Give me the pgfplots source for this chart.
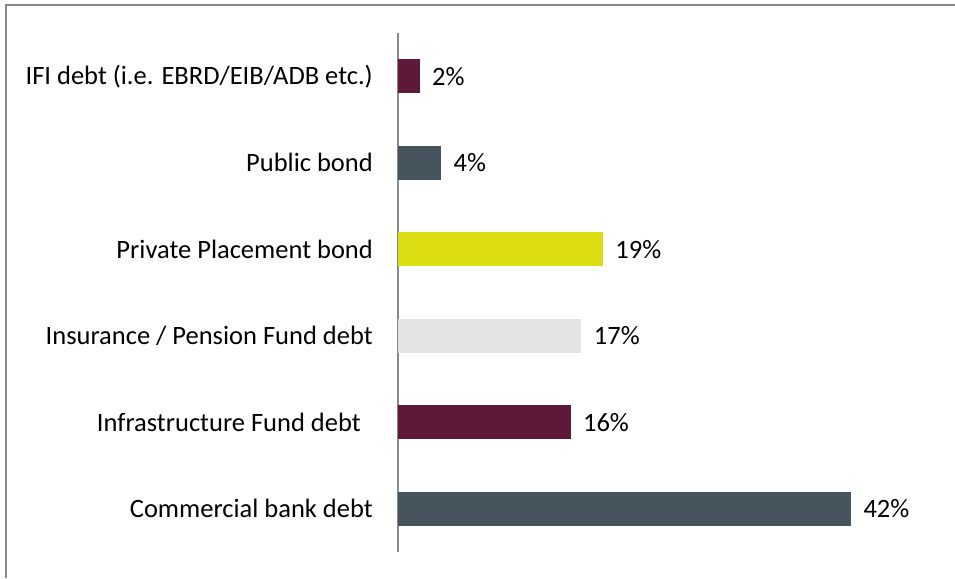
\documentclass[border=0pt]{standalone}
\usepackage{pgfplots}
\pgfplotsset{compat=1.18}
\usepackage{fontspec}
\setmainfont{Carlito}

\definecolor{plum}{HTML}{5E1839}
\definecolor{slate}{HTML}{46545D}
\definecolor{lime}{HTML}{DCDC12}
\definecolor{lightgrey}{HTML}{E3E3E5}
\definecolor{framegrey}{HTML}{888888}

\begin{document}
\begin{tikzpicture}[x=1pt,y=1pt]
  \useasboundingbox (0,0) rectangle (955,-578);
  \draw[framegrey, line width=2pt] (6,-578) -- (6,-5) -- (955,-5);
  \begin{axis}[
      at={(398pt,-552pt)}, anchor=south west,
      scale only axis,
      width=539.3pt, height=519pt,
      xmin=0, xmax=50,
      ymin=-0.5, ymax=5.5,
      axis x line=none,
      axis y line*=left,
      y axis line style={framegrey, line width=1.6pt},
      ytick={0,1,2,3,4,5},
      yticklabels={Commercial bank debt,
                   Infrastructure Fund debt\hspace*{12pt},
                   Insurance / Pension Fund debt,
                   Private Placement bond,
                   Public bond,
                   IFI debt (i.e. EBRD/EIB/ADB etc.)},
      ytick style={draw=none},
      major tick length=0pt,
      yticklabel style={font=\fontsize{26.5}{30}\selectfont, anchor=east, inner sep=0pt, xshift=-25pt},
      xbar, bar width=34pt, bar shift=0pt,
      /pgf/number format/assume math mode=true,
      nodes near coords={\pgfmathprintnumber{\pgfplotspointmeta}\%},
      every node near coord/.append style={font=\fontsize{26.5}{30}\selectfont, black, anchor=west, xshift=9pt},
      clip=false,
    ]
    \addplot[fill=slate, draw=none] coordinates {(42,0)};
    \addplot[fill=plum, draw=none] coordinates {(16,1)};
    \addplot[fill=lightgrey, draw=none] coordinates {(17,2)};
    \addplot[fill=lime, draw=none] coordinates {(19,3)};
    \addplot[fill=slate, draw=none] coordinates {(4,4)};
    \addplot[fill=plum, draw=none] coordinates {(2,5)};
  \end{axis}
\end{tikzpicture}
\end{document}
